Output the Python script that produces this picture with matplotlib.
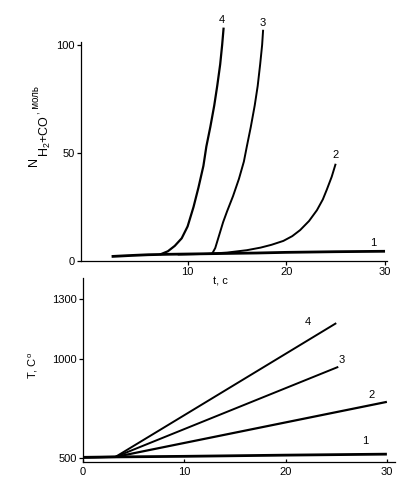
import matplotlib
matplotlib.use("Agg")
import matplotlib.pyplot as plt

plt.rcParams["font.family"] = ["Liberation Sans", "DejaVu Sans"]
plt.rcParams["mathtext.fontset"] = "custom"
plt.rcParams["mathtext.rm"] = "Liberation Sans"
plt.rcParams["mathtext.it"] = "Liberation Sans"

# top panel: N(H2+CO), mol vs t, s
n_t1 = [2.3, 4, 6, 8, 11, 14, 17, 20, 25, 30]
n_v1 = [2.1, 2.5, 2.9, 3.1, 3.3, 3.5, 3.7, 4.0, 4.3, 4.5]
n_t2 = [9, 12, 14, 16, 17.4, 18.5, 19.7, 20.6, 21.4, 22.3, 23.1, 23.7, 24.1, 24.6, 25.0]
n_v2 = [3.0, 3.3, 3.9, 5.0, 6.2, 7.5, 9.3, 11.5, 14.3, 18.5, 23.5, 28.5, 33, 39, 45]
n_t3 = [12.5, 12.8, 13.2, 13.6, 14.0, 14.6, 15.2, 15.7, 16.0, 16.4, 16.8, 17.1, 17.35, 17.55, 17.65]
n_v3 = [3.5, 6, 12, 18, 23, 30, 38, 46, 53, 62, 72, 81, 91, 100, 107]
n_t4 = [7.2, 8.0, 8.7, 9.4, 10.0, 10.6, 11.1, 11.6, 11.9, 12.3, 12.7, 13.0, 13.3, 13.5, 13.65]
n_v4 = [3.0, 4.5, 7, 10.5, 16, 25, 34, 44, 53, 62, 72, 81, 91, 100, 108]

# bottom panel: T, C vs t, s
T_t1 = [0, 3, 10, 20, 30]
T_v1 = [503, 505, 508, 514, 519]
T_t2 = [0, 3.2, 30]
T_v2 = [503, 505, 782]
T_t3 = [0, 3.2, 25.2]
T_v3 = [503, 505, 958]
T_t4 = [0, 3.2, 25.0]
T_v4 = [503, 505, 1178]

W, H = 397, 494
fig = plt.figure(figsize=(W / 100, H / 100), dpi=100)


def rect(x0, x1, y_top, y_bot):
    return [x0 / W, 1 - y_bot / H, (x1 - x0) / W, (y_bot - y_top) / H]


def style(ax):
    ax.spines["top"].set_visible(False)
    ax.spines["right"].set_visible(False)
    for s in ("left", "bottom"):
        ax.spines[s].set_linewidth(0.9)
    ax.tick_params(direction="out", length=3, width=0.9, pad=1.5, labelsize=8)
    ax.patch.set_alpha(0)


ax1 = fig.add_axes(rect(81, 387, 6, 261))
style(ax1)
kw = dict(color="black", clip_on=False, solid_capstyle="butt")
ax1.plot(n_t1, n_v1, lw=2.0, **kw)
ax1.plot(n_t2, n_v2, lw=1.4, **kw)
ax1.plot(n_t3, n_v3, lw=1.4, **kw)
ax1.plot(n_t4, n_v4, lw=1.6, **kw)
ax1.set_xlim(-0.8, 30.2)
ax1.set_ylim(0, 118)
ax1.spines["left"].set_bounds(0, 101.5)
ax1.set_yticks([0, 50, 100])
ax1.set_xticks([10, 20, 30])
for txt, x, y in [("1", 28.8, 8.3), ("2", 25.0, 49), ("3", 17.6, 110), ("4", 13.5, 111.6)]:
    ax1.text(x, y, txt, fontsize=8, ha="center", va="center")

ax2 = fig.add_axes(rect(83, 395, 278, 461.7))
style(ax2)
ax2.plot(T_t1, T_v1, lw=2.0, **kw)
ax2.plot(T_t2, T_v2, lw=1.6, **kw)
ax2.plot(T_t3, T_v3, lw=1.4, **kw)
ax2.plot(T_t4, T_v4, lw=1.4, **kw)
ax2.set_xlim(0, 30.8)
ax2.set_ylim(481, 1405)
ax2.set_yticks([500, 1000, 1300])
ax2.set_xticks([0, 10, 20, 30])
ax2.tick_params(axis="x", direction="in", length=2)
ax2.tick_params(axis="x", pad=4)
for txt, x, y in [("1", 27.9, 585), ("2", 28.5, 817), ("3", 25.5, 993), ("4", 22.2, 1183)]:
    ax2.text(x, y, txt, fontsize=8, ha="center", va="center")

# y label of the top panel: N with H2+CO subscript and small ", моль"
fig.text(34 / W, 1 - 162 / H, "N", rotation=90, fontsize=9, ha="center", va="center")
fig.text(45 / W, 1 - 136 / H, "H$_2$+CO", rotation=90, fontsize=9, ha="center", va="center")
fig.text(36 / W, 1 - 100 / H, ", моль", rotation=90, fontsize=7, ha="center", va="center")
fig.text(220 / W, 1 - 281 / H, "t, с", fontsize=8, ha="center", va="center")
fig.text(33 / W, 1 - 365 / H, "T, C$^{\mathregular{o}}$", rotation=90,
         fontsize=8, ha="center", va="center")

fig.savefig("out.png", dpi=100, facecolor="white")
plt.close(fig)
